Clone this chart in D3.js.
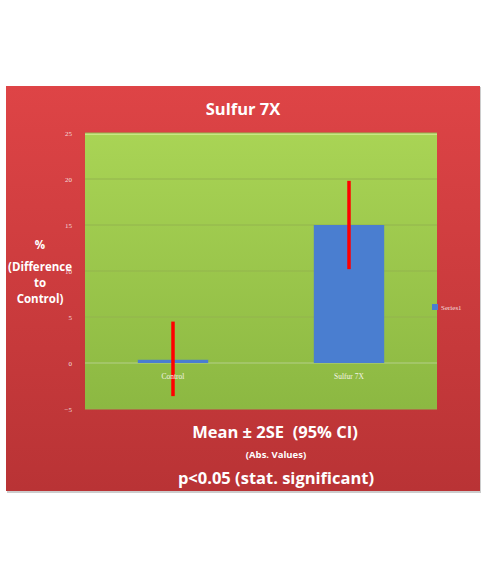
<!DOCTYPE html>
<html><head><meta charset="utf-8">
<script src="https://cdn.jsdelivr.net/npm/d3@7"></script>
<style>body{margin:0;background:#fff;}svg{display:block;font-family:"Open Sans","Liberation Sans",sans-serif;}</style>
</head><body>
<svg id="c" width="486" height="583"></svg>
<script>
const categories = ["Control", "Sulfur 7X"];
const values = [0.35, 15.0];
const errLow = [-3.6, 10.2];
const errHigh = [4.5, 19.8];
const yTicks = [-5, 0, 5, 10, 15, 20, 25];
const seriesName = "Series1";

const svg = d3.select("#c");
const defs = svg.append("defs");
const rg = defs.append("linearGradient").attr("id","rg").attr("x1",0).attr("y1",0).attr("x2",0).attr("y2",1);
rg.append("stop").attr("offset","0%").attr("stop-color","#de4446");
rg.append("stop").attr("offset","100%").attr("stop-color","#b93335");
const gg = defs.append("linearGradient").attr("id","gg").attr("x1",0).attr("y1",0).attr("x2",0).attr("y2",1);
gg.append("stop").attr("offset","0%").attr("stop-color","#a9d455");
gg.append("stop").attr("offset","100%").attr("stop-color","#8cb842");

// outer box
svg.append("rect").attr("x",7).attr("y",87).attr("width",474).attr("height",406).attr("fill","#999").attr("opacity",0.5);
svg.append("rect").attr("x",6).attr("y",86).attr("width",474).attr("height",405).attr("fill","url(#rg)");

const pl = 85, pr = 437, pt = 133, pb = 409;
const y = d3.scaleLinear().domain([-5,25]).range([pb,pt]);
const x = d3.scaleBand().domain(categories).range([pl,pr]).paddingInner(0.6).paddingOuter(0.3);

svg.append("rect").attr("x",pl).attr("y",pt).attr("width",pr-pl).attr("height",pb-pt).attr("fill","url(#gg)");
svg.append("rect").attr("x",pl).attr("y",pt).attr("width",pr-pl).attr("height",2).attr("fill","#d8ee9a").attr("opacity",0.7);

// gridlines
svg.append("g").selectAll("line").data(yTicks).join("line")
  .attr("x1",pl).attr("x2",pr).attr("y1",d=>y(d)).attr("y2",d=>y(d))
  .attr("stroke",d=>d===0?"#b4cf8a":"#93b44e").attr("stroke-width",1);

// y axis
const ya = svg.append("g").attr("transform",`translate(${pl-13},0)`)
  .call(d3.axisLeft(y).tickValues(yTicks).tickSize(0).tickPadding(0));
ya.select(".domain").remove();
ya.selectAll("text").attr("fill","#f3dede").attr("font-size",7).attr("font-family","'Liberation Serif',serif").attr("dy","0.35em");

// bars
svg.append("g").selectAll("rect").data(categories).join("rect")
  .attr("x",d=>x(d)).attr("width",x.bandwidth())
  .attr("y",(d,i)=>y(Math.max(0,values[i])))
  .attr("height",(d,i)=>Math.abs(y(values[i])-y(0)))
  .attr("fill","#4a7ed0");

// error bars
svg.append("g").selectAll("line").data(categories).join("line")
  .attr("x1",d=>x(d)+x.bandwidth()/2).attr("x2",d=>x(d)+x.bandwidth()/2)
  .attr("y1",(d,i)=>y(errHigh[i])).attr("y2",(d,i)=>y(errLow[i]))
  .attr("stroke","#ff0000").attr("stroke-width",3.5);

// category labels
svg.append("g").selectAll("text").data(categories).join("text")
  .attr("x",d=>x(d)+x.bandwidth()/2).attr("y",y(0)+16)
  .attr("text-anchor","middle").attr("fill","#f4f4e8").attr("font-size",7.5)
  .attr("font-family","'Liberation Serif',serif").text(d=>d);

// legend
svg.append("rect").attr("x",432).attr("y",304).attr("width",6).attr("height",6).attr("fill","#4a7ed0");
svg.append("text").attr("x",441).attr("y",310).attr("fill","#f3dede").attr("font-size",7)
  .attr("font-family","'Liberation Serif',serif").text(seriesName);

// title
svg.append("text").attr("x",243).attr("y",115).attr("text-anchor","middle").attr("fill","#fff")
  .attr("font-size",16.5).attr("font-weight","bold").text("Sulfur 7X");

// y title
const yt = svg.append("text").attr("text-anchor","middle").attr("fill","#fff").attr("font-size",11.5).attr("font-weight","bold");
["%","(Difference","to","Control)"].forEach((t,i)=>{
  yt.append("tspan").attr("x",40).attr("y",[249,271,287,303][i]).text(t);
});

// bottom texts
svg.append("text").attr("x",275).attr("y",438).attr("text-anchor","middle").attr("fill","#fff")
  .attr("font-size",16.5).attr("font-weight","bold").attr("xml:space","preserve").text("Mean ± 2SE  (95% CI)");
svg.append("text").attr("x",276).attr("y",458).attr("text-anchor","middle").attr("fill","#fff")
  .attr("font-size",9.5).attr("font-weight","bold").text("(Abs. Values)");
svg.append("text").attr("x",276).attr("y",484).attr("text-anchor","middle").attr("fill","#fff")
  .attr("font-size",16.5).attr("font-weight","bold").text("p<0.05 (stat. significant)");
</script>
</body></html>
